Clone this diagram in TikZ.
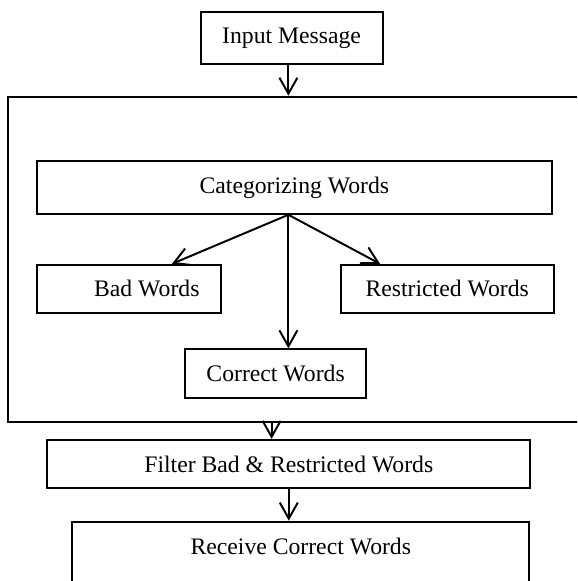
\documentclass[tikz,border=0pt]{standalone}
\usepackage{fontspec}
\setmainfont{Liberation Serif}
\usepackage{tikz}
\usetikzlibrary{arrows.meta, positioning}

\begin{document}
\begin{tikzpicture}[
    wbox/.style={draw, line width=1.4pt, minimum height=1.21cm, inner sep=2pt, font=\fontsize{16.85pt}{20pt}\selectfont},
    flow/.style={line width=1.4pt, -{Straight Barb[length=0.4cm, width=0.45cm]}}]
\clip (0,0) rectangle (14.425,-14.525);
\useasboundingbox (0,0) rectangle (14.425,-14.525);

\node[wbox, minimum width=4.55cm, minimum height=1.29cm] (inp) at (7.29,-0.955) {Input Message};

% outer frame, runs off the right edge
\node[wbox, minimum width=15.29cm, minimum height=8.125cm] (frame) at (7.856,-6.48) {};

\node[wbox, minimum width=12.88cm, minimum height=1.31cm] (cat) at (7.36,-4.69) {Categorizing Words};
\node[wbox, minimum width=4.6cm, minimum height=1.2cm] (bad) at (3.22,-7.22) {\hspace*{0.9cm}Bad Words};
\node[wbox, minimum width=5.32cm, minimum height=1.2cm] (res) at (11.18,-7.22) {Restricted Words};
\node[wbox, minimum width=4.53cm, minimum height=1.225cm] (cor) at (6.89,-9.345) {Correct Words};

\coordinate (fork) at ([xshift=-0.15cm]cat.south);
\draw[flow] (fork) -- ([xshift=1.08cm]bad.north);
\draw[flow] (fork) -- ([xshift=-1.68cm]res.north);
\draw[flow] (fork) -- (fork |- cor.north);

\draw[flow] ([xshift=-0.08cm]inp.south) -- ([xshift=-0.08cm]inp.south |- frame.north);

\node[wbox, minimum width=12.07cm] (fil) at (7.22,-11.6) {Filter Bad \& Restricted Words};
\draw[flow] ([xshift=-0.43cm]fil.north |- frame.south) -- ([xshift=-0.43cm]fil.north);

% last box runs off the bottom edge
\node[wbox, minimum width=11.42cm, anchor=base, inner ysep=0pt, text height=0.82cm, text depth=1.2cm] (rec) at (7.52,-13.86) {Receive Correct Words};
\draw[flow] (fil.south) -- (fil.south |- rec.north);
\end{tikzpicture}
\end{document}
